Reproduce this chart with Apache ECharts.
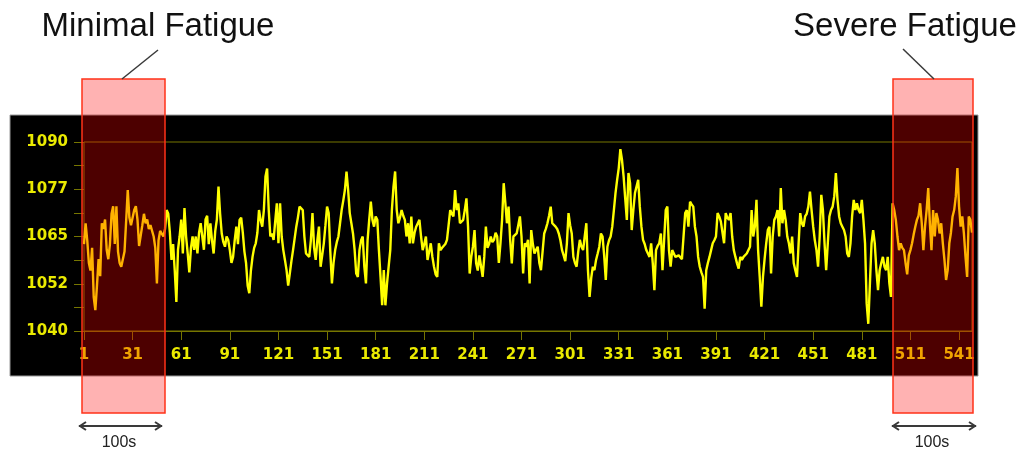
<!DOCTYPE html>
<html>
<head>
<meta charset="utf-8">
<script src="https://cdn.jsdelivr.net/npm/echarts@6/dist/echarts.min.js"></script>
<style>
html,body{margin:0;padding:0;background:#ffffff;}
#chart{width:1024px;height:452px;}
</style>
</head>
<body>
<div id="chart"></div>
<script>
// ---- data ----
const signal = [
1063,1068.5,1064,1058,1056,1062,1049,1045.5,1052,1059,
1054.5,1068.5,1067,1069.5,1061.5,1059,1063,1071,1073,1063,
1073,1061,1058,1057,1057.5,1061,1069,1077.3,1070,1068,
1067.5,1072,1073,1069.5,1062.5,1062,1068,1071,1068.5,1069.5,
1067,1068,1067.5,1065,1062,1052.6,1064,1066.5,1066,1065,
1067,1072,1071,1066,1058.8,1063,1056,1047.7,1061.5,1065,
1069.5,1060.5,1072.5,1065,1060.5,1055.5,1062,1065,1061.5,1065,
1060.5,1066,1068.5,1065,1061.5,1069.5,1070.5,1063,1068.5,1064,
1060.5,1066.5,1069.5,1078.2,1071,1065.8,1063.5,1062.3,1065,1064.1,
1061.4,1058,1059.6,1064,1067.6,1063,1069.4,1070,1066,1061,
1058,1052,1050,1056,1059.6,1062,1063.2,1066,1072,1069.4,
1067.6,1072,1080.9,1083,1072,1065,1065.8,1064.1,1069,1073.8,
1063.2,1073.8,1065,1061.4,1058.8,1056.1,1052,1055.2,1058.5,1061.4,
1064.5,1067.6,1070,1072.9,1072.5,1072,1065,1060.5,1060,1059.6,
1064,1071.2,1062,1058.8,1064,1067.6,1057,1060,1063.2,1068,
1072.9,1071.2,1061,1052.6,1058,1061.4,1063.5,1065,1068.5,1072,
1074.5,1077.3,1082.2,1077.3,1071.2,1068.5,1065.8,1061.5,1055.2,1054.3,
1061.4,1064,1065,1057,1052.6,1064,1069.4,1074.2,1069.4,1067.6,
1070.3,1069.4,1061.4,1054.3,1046.8,1056.1,1046.8,1052.6,1057,1061.4,
1072,1078.2,1082.2,1072,1068.5,1070,1072,1070.5,1069.4,1065,
1068.5,1063.2,1070.3,1063.2,1066,1067.6,1068.5,1069.4,1065,1061.4,
1063,1065,1058.8,1061,1063.2,1059.6,1057,1055,1054.3,1063.2,
1061.4,1062,1062.3,1063,1064.1,1068,1072,1071,1070.3,1077.3,
1072,1073.8,1068.5,1069,1069.4,1072,1075.1,1067.6,1055.2,1059.6,
1062.3,1066.7,1057.9,1056,1060,1060.5,1054.3,1059.6,1067.6,1062,
1063,1065,1063.5,1064.1,1066,1065,1058,1063.2,1069.4,1079.1,
1074,1068.5,1072.9,1064,1057.9,1065,1065.5,1065.8,1068,1070.3,
1065,1055.2,1063.2,1062.3,1064.1,1052.6,1066.7,1063,1060.5,1061.5,
1062.3,1058,1056.1,1061,1065.8,1067,1068.5,1070.5,1072.9,1068.5,
1068,1067.6,1067,1065.8,1064,1061.4,1060,1058.5,1063.2,1071.2,
1068,1065.8,1059.6,1058,1057,1061,1064.1,1062.3,1061.4,1065,
1068.5,1056.1,1049,1054,1057,1056.1,1058.8,1060.5,1062.3,1065.8,
1065,1060,1053.5,1062.3,1064,1065,1067.6,1072,1076.5,1080,
1083.1,1088.1,1085.3,1080.9,1075,1069.4,1081.8,1079.1,1066.7,1072,
1076.5,1076.5,1080,1072.9,1067.6,1064.1,1063,1061.4,1060.5,1059.6,
1063.2,1057.9,1050.8,1061.4,1062.5,1063.2,1065.8,1056.1,1064,1072,
1072.9,1061.4,1057,1061.4,1060.5,1059.6,1059.6,1060,1059.6,1059,
1058.8,1071.2,1072,1067.6,1074.2,1073.5,1072.9,1067.6,1065,1059.6,
1057,1055.5,1054.3,1045.9,1056.1,1058,1059.6,1061.4,1063.2,1064,
1065,1071.2,1070.3,1069,1069.4,1063.2,1071.2,1070,1069.4,1071.2,
1065,1061.4,1059.6,1057.9,1056.5,1059.6,1058.8,1059.6,1060,1060.5,
1061,1062.3,1072,1065,1067.6,1074.7,1061.4,1054.3,1046.4,1054.3,
1059,1063.2,1066.7,1067.6,1055.2,1065,1069.4,1070.3,1072,1065,
1077.8,1068.5,1072,1069.4,1065,1063.2,1060.5,1065,1057.9,1056,
1054.3,1063.2,1071.2,1068.5,1067.6,1070.3,1071,1072.9,1076.9,1072,
1067.6,1064,1061.4,1057,1065,1076,1072,1063.2,1056.1,1063.2,
1070.3,1072,1072.9,1075.6,1081.8,1074.7,1070.3,1068.5,1067.6,1066.7,
1065,1060.5,1059.6,1063.2,1070.3,1074.7,1072,1073.8,1072,1071.2,
1074.7,1069.4,1063.2,1047.3,1041.9,1052.6,1063.2,1066.7,1063.2,1056.1,
1050.8,1056.1,1058,1059.6,1057,1056.1,1059.6,1052.6,1049,1073.8,
1072,1069.4,1065,1061.4,1063.2,1062,1061.4,1058,1055,1060,
1061.4,1063.2,1065.5,1067.6,1069.4,1070.5,1073.8,1068.5,1061.4,1067.6,
1072,1077.8,1068.5,1061.4,1072,1065,1071.2,1069.4,1065.8,1068.5,
1063.2,1058.8,1053.5,1056.1,1063.2,1066,1070.3,1072,1075.6,1083.1,
1073,1067.6,1070.3,1065.8,1059.6,1054.3,1070.3,1069.4,1066
];
const categories = signal.map((_, i) => String(i + 1));
const xTickLabels = ['1','31','61','91','121','151','181','211','241','271','301','331','361','391','421','451','481','511','541'];
const yTickValues = [1040, 1052.5, 1065, 1077.5, 1090];
const yTickLabels = ['1040','1052','1065','1077','1090'];
const titles = ['Minimal Fatigue', 'Severe Fatigue'];
const spanLabel = '100s';

// ---- chart ----
const chart = echarts.init(document.getElementById('chart'), null, {renderer: 'canvas'});
const yellow = '#eaea00';
const olive = '#767600';
const dark = '#3a3a3a';

function arrow(x1, x2, y) {
  return [
    {type: 'line', z: 200, shape: {x1: x1, y1: y, x2: x2, y2: y}, style: {stroke: dark, lineWidth: 2}},
    {type: 'polyline', z: 200, shape: {points: [[x1 + 7, y - 4], [x1 + 1, y], [x1 + 7, y + 4]]}, style: {stroke: dark, lineWidth: 2, fill: null}},
    {type: 'polyline', z: 200, shape: {points: [[x2 - 7, y - 4], [x2 - 1, y], [x2 - 7, y + 4]]}, style: {stroke: dark, lineWidth: 2, fill: null}}
  ];
}

const graphics = [
  {type: 'rect', z: -10, shape: {x: 10, y: 115, width: 968, height: 261}, style: {fill: '#000000', stroke: '#9a9a9a', lineWidth: 1}},
  {type: 'rect', z: 150, shape: {x: 82, y: 79, width: 83, height: 334}, style: {fill: 'rgba(255,0,0,0.3)', stroke: '#ff3218', lineWidth: 1.5}},
  {type: 'rect', z: 150, shape: {x: 893, y: 79, width: 80, height: 334}, style: {fill: 'rgba(255,0,0,0.3)', stroke: '#ff3218', lineWidth: 1.5}},
  {type: 'line', z: 200, shape: {x1: 158, y1: 50, x2: 122, y2: 79}, style: {stroke: dark, lineWidth: 1.5}},
  {type: 'line', z: 200, shape: {x1: 903, y1: 49, x2: 934, y2: 79}, style: {stroke: dark, lineWidth: 1.5}},
  {type: 'text', z: 200, x: 158, y: 27, style: {text: titles[0], fill: '#111111', font: '33px "Liberation Sans", Arial, sans-serif', align: 'center', verticalAlign: 'middle'}},
  {type: 'text', z: 200, x: 905, y: 27, style: {text: titles[1], fill: '#111111', font: '33px "Liberation Sans", Arial, sans-serif', align: 'center', verticalAlign: 'middle'}},
  {type: 'text', z: 200, x: 119, y: 443, style: {text: spanLabel, fill: '#222222', font: '16px "Liberation Sans", Arial, sans-serif', align: 'center', verticalAlign: 'middle'}},
  {type: 'text', z: 200, x: 932, y: 443, style: {text: spanLabel, fill: '#222222', font: '16px "Liberation Sans", Arial, sans-serif', align: 'center', verticalAlign: 'middle'}}
].concat(arrow(79, 162, 426), arrow(892, 976, 426));

chart.setOption({
  animation: false,
  backgroundColor: '#ffffff',
  grid: {left: 84, right: 52, top: 142, bottom: 121, show: true, borderColor: olive, borderWidth: 1, backgroundColor: 'transparent'},
  xAxis: {
    type: 'category',
    data: categories,
    boundaryGap: false,
    axisLine: {show: true, lineStyle: {color: olive, width: 1}},
    axisTick: {show: true, length: 9, interval: (i, v) => xTickLabels.indexOf(v) >= 0, lineStyle: {color: olive}},
    axisLabel: {
      interval: (i, v) => xTickLabels.indexOf(v) >= 0,
      color: yellow, fontFamily: 'DejaVu Sans', fontWeight: 'bold', fontSize: 15, margin: 17
    },
    splitLine: {show: false}
  },
  yAxis: {
    type: 'value',
    min: yTickValues[0], max: yTickValues[yTickValues.length - 1], interval: 12.5,
    axisLine: {show: false},
    axisTick: {show: true, length: 10, lineStyle: {color: olive}},
    minorTick: {show: true, splitNumber: 2, length: 10, lineStyle: {color: olive}},
    axisLabel: {
      color: yellow, fontFamily: 'DejaVu Sans', fontWeight: 'bold', fontSize: 15, margin: 16,
      formatter: v => { const k = yTickValues.indexOf(v); return k >= 0 ? yTickLabels[k] : ''; }
    },
    splitLine: {show: false}
  },
  series: [{
    type: 'line',
    data: signal,
    symbol: 'none',
    z: 5,
    lineStyle: {color: '#ffff00', width: 2.4}
  }],
  graphic: graphics
});
</script>
</body>
</html>
